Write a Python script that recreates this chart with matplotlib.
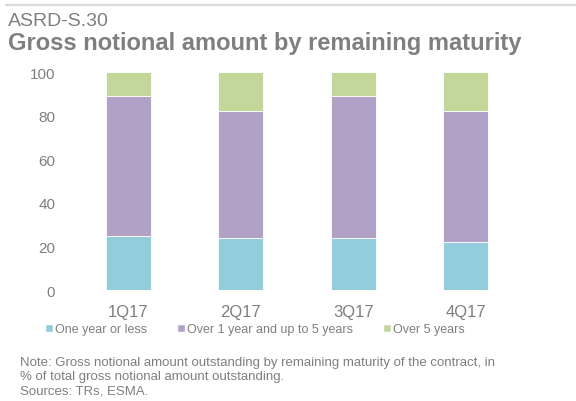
import numpy as np
import matplotlib.pyplot as plt
from matplotlib.lines import Line2D

plt.rcParams['font.family'] = ['Liberation Sans', 'DejaVu Sans']

quarters = ["1Q17", "2Q17", "3Q17", "4Q17"]
one_year_or_less = [24.7, 23.7, 23.7, 22.0]
one_to_five_years = [64.4, 58.7, 65.4, 60.4]
over_five_years = [10.9, 17.6, 10.9, 17.6]

series_names = ["One year or less", "Over 1 year and up to 5 years", "Over 5 years"]
colors = ["#92CDDC", "#B2A1C7", "#C4D79B"]
grey = "#7f7f7f"

fig = plt.figure(figsize=(5.76, 4.02), dpi=100)
ax = fig.add_axes([0.125, 0.276, 0.781, 0.542])

x = np.arange(len(quarters))
bottom = np.zeros(len(quarters))
for vals, name, c in zip([one_year_or_less, one_to_five_years, over_five_years], series_names, colors):
    ax.bar(x, vals, width=0.4, bottom=bottom, color=c, edgecolor="white", linewidth=0.6, label=name)
    bottom += np.array(vals)

ax.set_xlim(-0.5, len(quarters) - 0.5)
ax.set_ylim(0, 100)
ax.set_yticks(range(0, 101, 20))
ax.set_xticks(x)
ax.set_xticklabels(quarters)
for s in ax.spines.values():
    s.set_visible(False)
ax.tick_params(axis="x", length=0, colors=grey, labelsize=12, pad=10)
ax.tick_params(axis="y", length=0, colors=grey, labelsize=11, pad=12)

# legend with square markers
handles = [Line2D([0], [0], marker="s", color="w", markerfacecolor=c, markersize=6, linestyle="")
           for c in colors]
fig.legend(handles, series_names, loc="center left", bbox_to_anchor=(0.076, 0.179), ncol=3,
           frameon=False, fontsize=9, labelcolor=grey, handletextpad=0.1, columnspacing=2.3,
           handlelength=0.8, borderpad=0, borderaxespad=0)

# header
fig.add_artist(Line2D([0.01, 1.0], [0.985, 0.985], color="#d9d9d9", linewidth=1.6, transform=fig.transFigure))
fig.text(0.014, 0.935, "ASRD-S.30", fontsize=14, color=grey, va="baseline")
fig.text(0.014, 0.876, "Gross notional amount by remaining maturity", fontsize=17, color=grey,
         fontweight="bold", va="baseline")

# notes
fig.text(0.035, 0.097, "Note: Gross notional amount outstanding by remaining maturity of the contract, in",
         fontsize=9.5, color=grey, va="center")
fig.text(0.035, 0.062, "% of total gross notional amount outstanding.", fontsize=9.5, color=grey, va="center")
fig.text(0.035, 0.027, "Sources: TRs, ESMA.", fontsize=9.5, color=grey, va="center")

fig.savefig("out.png", dpi=100)
